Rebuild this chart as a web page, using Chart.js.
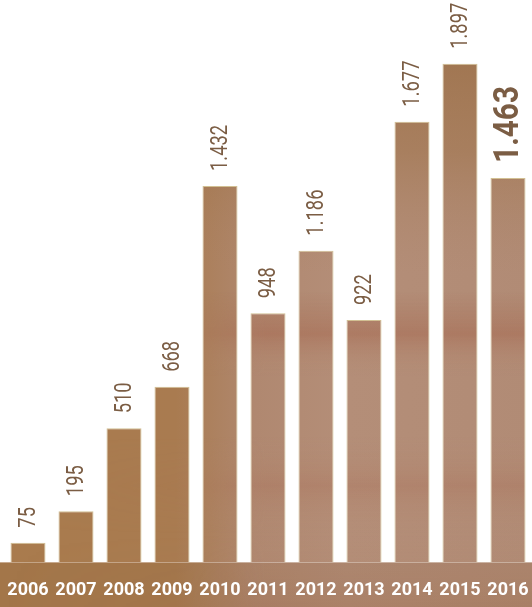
<!DOCTYPE html>
<html><head><meta charset="utf-8">
<script src="https://cdn.jsdelivr.net/npm/chart.js@4"></script>
<style>html,body{margin:0;padding:0;background:#fff}#wrap{width:532px;height:607px;position:relative}</style>
</head><body><div id="wrap"><canvas id="c"></canvas></div>
<script>
const years = ['2006','2007','2008','2009','2010','2011','2012','2013','2014','2015','2016'];
const counts = [75, 195, 510, 668, 1432, 948, 1186, 922, 1677, 1897, 1463];
const highlightYear = '2016';
const yMax = 2140;

function fmt(v){ return String(v).replace(/\B(?=(\d{3})+(?!\d))/g, '.'); }

let woodCanvas = null;
function woodTexture(){
  if (woodCanvas) return woodCanvas;
  const W = 532, H = 607;
  const c = document.createElement('canvas'); c.width = W; c.height = H;
  const g = c.getContext('2d');
  const h = g.createLinearGradient(0, 0, W, 0);
  h.addColorStop(0, '#a97b4d');
  h.addColorStop(0.33, '#a97b50');
  h.addColorStop(0.48, '#b08870');
  h.addColorStop(0.65, '#b48e78');
  h.addColorStop(1, '#b18b75');
  g.fillStyle = h; g.fillRect(0, 0, W, H);
  const t = g.createLinearGradient(0, 0, 0, H);
  t.addColorStop(0, 'rgba(150,105,62,0.8)');
  t.addColorStop(0.25, 'rgba(155,110,65,0.45)');
  t.addColorStop(0.45, 'rgba(170,130,100,0)');
  t.addColorStop(1, 'rgba(170,130,100,0)');
  g.fillStyle = t; g.fillRect(0, 0, W, H);
  const o = document.createElement('canvas'); o.width = W; o.height = H;
  const og = o.getContext('2d');
  const v = og.createLinearGradient(0, 0, 0, H);
  v.addColorStop(0, 'rgba(165,105,80,0)');
  v.addColorStop(0.48, 'rgba(165,105,80,0)');
  v.addColorStop(0.55, 'rgba(165,100,75,0.45)');
  v.addColorStop(0.62, 'rgba(185,145,120,0)');
  v.addColorStop(0.72, 'rgba(185,145,120,0)');
  v.addColorStop(0.8, 'rgba(170,110,85,0.3)');
  v.addColorStop(0.88, 'rgba(185,145,120,0)');
  v.addColorStop(1, 'rgba(165,110,80,0.2)');
  og.fillStyle = v; og.fillRect(0, 0, W, H);
  og.globalCompositeOperation = 'destination-in';
  const m = og.createLinearGradient(0, 0, W, 0);
  m.addColorStop(0, 'rgba(0,0,0,0)');
  m.addColorStop(0.36, 'rgba(0,0,0,0.2)');
  m.addColorStop(0.5, 'rgba(0,0,0,1)');
  m.addColorStop(1, 'rgba(0,0,0,1)');
  og.fillStyle = m; og.fillRect(0, 0, W, H);
  g.drawImage(o, 0, 0);
  woodCanvas = c;
  return c;
}
const patterns = new WeakMap();
function woodPattern(ctx){
  if (!patterns.has(ctx)) patterns.set(ctx, ctx.createPattern(woodTexture(), 'no-repeat'));
  return patterns.get(ctx);
}

const bandPlugin = {
  id: 'band',
  beforeDraw(chart){
    const {ctx, chartArea, width, height} = chart;
    ctx.save();
    ctx.fillStyle = woodPattern(ctx);
    ctx.fillRect(0, chartArea.bottom, width, height - chartArea.bottom);
    ctx.fillStyle = 'rgba(120,75,40,0.1)';
    ctx.fillRect(0, chartArea.bottom, width, height - chartArea.bottom);
    ctx.restore();
  }
};

const valuePlugin = {
  id: 'values',
  afterDatasetsDraw(chart){
    const {ctx} = chart;
    const meta = chart.getDatasetMeta(0);
    ctx.save();
    ctx.fillStyle = '#7b5d44';
    meta.data.forEach((bar, i) => {
      const bold = chart.data.labels[i] === highlightYear;
      ctx.font = bold ? 'bold 35px Roboto' : '23px Roboto';
      ctx.save();
      ctx.translate(bar.x, bar.y - 15);
      ctx.rotate(-Math.PI / 2);
      ctx.scale(bold ? 0.85 : 0.8, 1);
      ctx.textAlign = 'left';
      ctx.textBaseline = 'middle';
      ctx.fillText(fmt(chart.data.datasets[0].data[i]), 0, 1);
      ctx.restore();
    });
    ctx.restore();
  }
};

new Chart(document.getElementById('c'), {
  type: 'bar',
  data: {
    labels: years,
    datasets: [{
      data: counts,
      backgroundColor: (c) => woodPattern(c.chart.ctx),
      borderColor: 'rgba(205,185,135,0.9)',
      borderWidth: 1,
      categoryPercentage: 1,
      barPercentage: 0.73
    }]
  },
  options: {
    responsive: true,
    maintainAspectRatio: false,
    animation: false,
    layout: { padding: { left: 4, right: 0, top: 0, bottom: 6 } },
    plugins: { legend: { display: false }, tooltip: { enabled: false } },
    scales: {
      x: {
        grid: { display: false, tickLength: 17 },
        border: { display: false },
        ticks: { color: '#ffffff', font: { family: 'Roboto', weight: 'bold', size: 18 }, padding: 0, maxRotation: 0, autoSkip: false }
      },
      y: { display: false, min: 0, max: yMax }
    }
  },
  plugins: [bandPlugin, valuePlugin]
});
</script>
</body></html>
